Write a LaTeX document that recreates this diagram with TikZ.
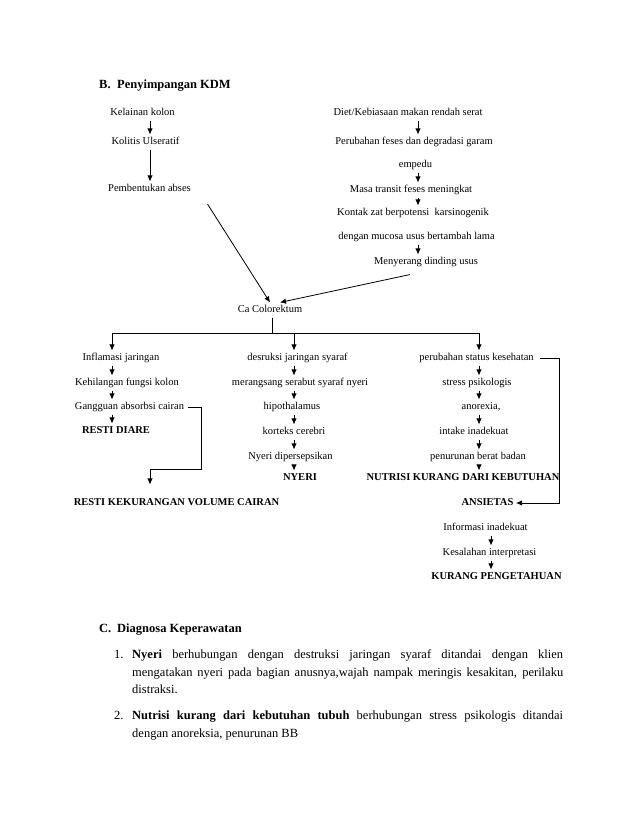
\documentclass[tikz,border=0pt]{standalone}
\usepackage{fontspec}
\setmainfont{Liberation Serif}
\usetikzlibrary{arrows.meta}

\begin{document}
\begin{tikzpicture}[
        x=1pt, y=-1pt,
        lbl/.style={inner sep=2.5pt, text height=7.5pt, text depth=2.2pt, font=\fontsize{10.5}{12}\selectfont},
        res/.style={lbl, font=\fontsize{10.5}{12}\selectfont\bfseries},
        head/.style={anchor=west, inner sep=0pt, text height=9pt, text depth=2.6pt, font=\fontsize{12.5}{15}\selectfont\bfseries},
        para/.style={anchor=west, inner sep=0pt, text height=9pt, text depth=2.6pt, font=\fontsize{12.5}{15}\selectfont},
        arr/.style={draw, line width=0.8pt, -{Latex[length=6pt, width=5.5pt]}}
    ]
    \fill[white] (0,0) rectangle (638,826);
    \useasboundingbox (0,0) rectangle (638,826);

    % columns of the short arrows
    \coordinate (cA) at (150,0);
    \coordinate (cB) at (418,0);
    \coordinate (cL) at (112,0);
    \coordinate (cM) at (294,0);
    \coordinate (cR) at (479,0);
    \coordinate (cK) at (491,0);

    \node[head] (headB) at (99,85) {\makebox[18pt][l]{B.}Penyimpangan KDM};

    % upper part
    \node[lbl] (kelainan) at (142.5,113) {Kelainan kolon};
    \node[lbl] (kolitis) at (145.5,142) {Kolitis Ulseratif};
    \node[lbl] (abses) at (149.5,189) {Pembentukan abses};

    \node[lbl] (diet) at (408,113) {Diet/Kebiasaan makan rendah serat};
    \node[lbl] (feses) at (414,142) {Perubahan feses dan degradasi garam};
    \node[lbl] (empedu) at (415.5,165) {empedu};
    \node[lbl] (transit) at (411,190) {Masa transit feses meningkat};
    \node[lbl] (kontak) at (413,213) {Kontak zat berpotensi\ \ karsinogenik};
    \node[lbl] (mucosa) at (416.5,237) {dengan mucosa usus bertambah lama};
    \node[lbl] (dinding) at (426,262) {Menyerang dinding usus};

    \node[lbl] (ca) at (270,310) {Ca Colorektum};
    \coordinate (split) at (272,333);

    % left branch
    \node[lbl] (inflamasi) at (121,358) {Inflamasi jaringan};
    \node[lbl] (fungsi) at (127,383) {Kehilangan fungsi kolon};
    \node[lbl] (absorbsi) at (129.5,407) {Gangguan absorbsi cairan};
    \node[res] (diare) at (116,431) {RESTI DIARE};
    \node[res] (volume) at (176.5,503) {RESTI KEKURANGAN VOLUME CAIRAN};
    \coordinate (bendA) at (201,469);

    % middle branch
    \node[lbl] (desruksi) at (297.5,358) {desruksi jaringan syaraf};
    \node[lbl] (serabut) at (300,383) {merangsang serabut syaraf nyeri};
    \node[lbl] (hipo) at (292,407) {hipothalamus};
    \node[lbl] (korteks) at (294,432) {korteks cerebri};
    \node[lbl] (persepsi) at (290.5,457) {Nyeri dipersepsikan};
    \node[res] (nyeri) at (300,478) {NYERI};

    % right branch
    \node[lbl] (status) at (476.5,358) {perubahan status kesehatan};
    \node[lbl] (stress) at (477,383) {stress psikologis};
    \node[lbl] (anorexia) at (481,407) {anorexia,};
    \node[lbl] (intake) at (474,432) {intake inadekuat};
    \node[lbl] (bb) at (478,457) {penurunan berat badan};
    \node[res] (nutrisi) at (463,478) {NUTRISI KURANG DARI KEBUTUHAN};
    \node[res] (ansietas) at (487.5,503) {ANSIETAS};
    \node[lbl] (informasi) at (485.5,528) {Informasi inadekuat};
    \node[lbl] (salah) at (489.5,553) {Kesalahan interpretasi};
    \node[res] (pengetahuan) at (496.5,577) {KURANG PENGETAHUAN};
    \coordinate (bendB) at (559,503);

    % arrows
    \draw[arr] (kelainan.south -| cA) -- (kolitis.north -| cA);
    \draw[arr] (kolitis.south -| cA) -- (abses.north -| cA);
    \draw[arr] (diet.south -| cB) -- (feses.north -| cB);
    \draw[arr] (empedu.south -| cB) -- (transit.north -| cB);
    \draw[arr] (transit.south -| cB) -- (kontak.north -| cB);
    \draw[arr] (mucosa.south -| cB) -- (dinding.north -| cB);
    \draw[arr] ([xshift=14pt, yshift=-15pt]abses.east) -- (ca.north);
    \draw[arr] ([xshift=-16pt, yshift=-5pt]dinding.south) -- ([xshift=10pt]ca.north);

    \draw[line width=0.8pt] (ca.south -| split) -- (split);
    \draw[arr] (split) -| (cL |- inflamasi.north);
    \draw[arr] (split) -| (cM |- desruksi.north);
    \draw[arr] (split) -| (cR |- status.north);

    \draw[arr] (inflamasi.south -| cL) -- (fungsi.north -| cL);
    \draw[arr] (fungsi.south -| cL) -- (absorbsi.north -| cL);
    \draw[arr] (absorbsi.south -| cL) -- (diare.north -| cL);
    \draw[arr, shorten >=11pt, shorten <=1.5pt] (absorbsi.east) -| (bendA) -| (cA |- volume.north);

    \draw[arr] (desruksi.south -| cM) -- (serabut.north -| cM);
    \draw[arr] (serabut.south -| cM) -- (hipo.north -| cM);
    \draw[arr] (hipo.south -| cM) -- (korteks.north -| cM);
    \draw[arr] (korteks.south -| cM) -- (persepsi.north -| cM);
    \draw[arr] (persepsi.south -| cM) -- (nyeri.north -| cM);

    \draw[arr] (status.south -| cR) -- (stress.north -| cR);
    \draw[arr] (stress.south -| cR) -- (anorexia.north -| cR);
    \draw[arr] (anorexia.south -| cR) -- (intake.north -| cR);
    \draw[arr] (intake.south -| cR) -- (bb.north -| cR);
    \draw[arr] (bb.south -| cR) -- (nutrisi.north -| cR);
    \draw[arr, shorten <=4pt] (status.east) -| (bendB) -- (ansietas.east);

    \draw[arr] (informasi.south -| cK) -- (salah.north -| cK);
    \draw[arr] (salah.south -| cK) -- (pengetahuan.north -| cK);

    % diagnosa
    \node[head] (headC) at (99,629) {\makebox[18pt][l]{C.}Diagnosa Keperawatan};
    \node[para] (num1) at (114,655) {1.};
    \node[para] (d1a) at (132,655) {\makebox[431pt][s]{\textbf{Nyeri} berhubungan dengan destruksi jaringan syaraf ditandai dengan klien}};
    \node[para] (d1b) at (132,673) {\makebox[431pt][s]{mengatakan nyeri pada bagian anusnya,wajah nampak meringis kesakitan, perilaku}};
    \node[para] (d1c) at (132,690.5) {distraksi.};
    \node[para] (num2) at (114,716) {2.};
    \node[para] (d2a) at (132,716) {\makebox[431pt][s]{\textbf{Nutrisi kurang dari kebutuhan tubuh} berhubungan stress psikologis ditandai}};
    \node[para] (d2b) at (132,734) {dengan anoreksia, penurunan BB};

\end{tikzpicture}
\end{document}
